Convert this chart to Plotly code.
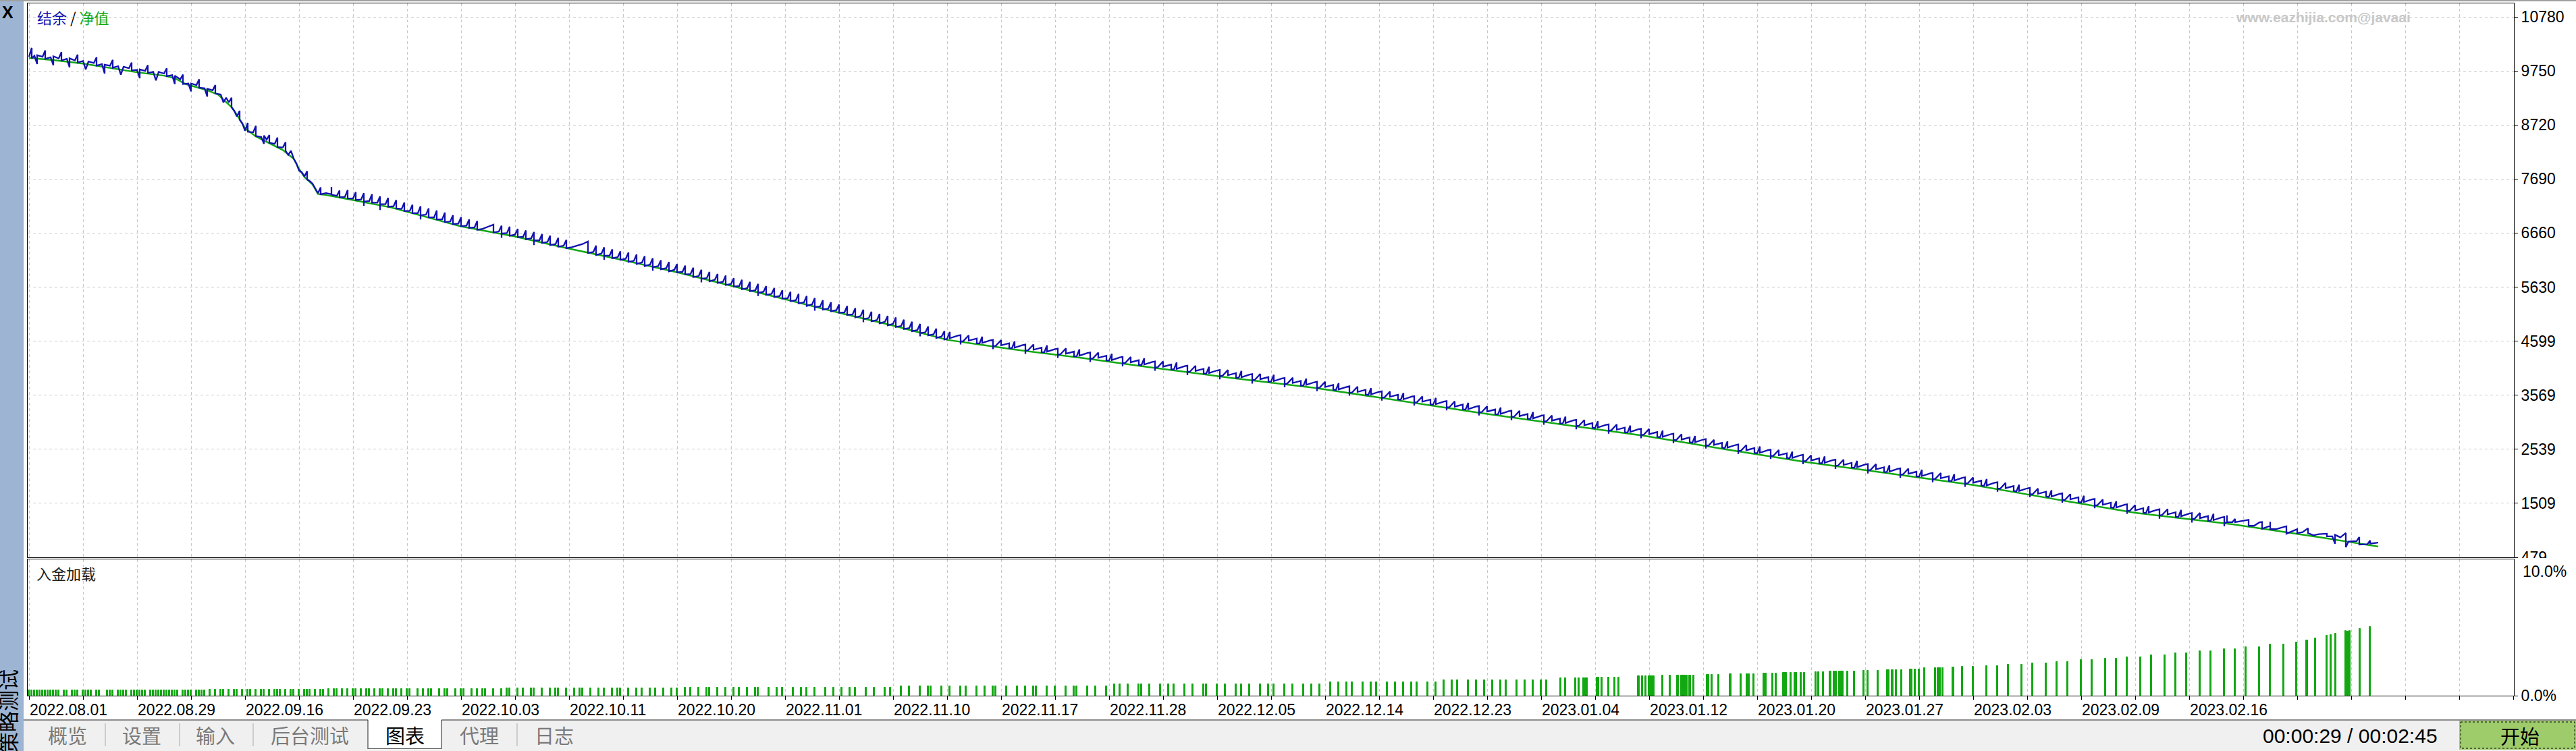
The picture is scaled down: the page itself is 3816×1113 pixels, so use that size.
import plotly.graph_objects as go

# ---------------- data ----------------
date_labels = ["2022.08.01", "2022.08.29", "2022.09.16", "2022.09.23", "2022.10.03",
               "2022.10.11", "2022.10.20", "2022.11.01", "2022.11.10", "2022.11.17",
               "2022.11.28", "2022.12.05", "2022.12.14", "2022.12.23", "2023.01.04",
               "2023.01.12", "2023.01.20", "2023.01.27", "2023.02.03", "2023.02.09",
               "2023.02.16"]
y_tick_values = [479, 1509, 2539, 3569, 4599, 5630, 6660, 7690, 8720, 9750, 10780]
load_tick_labels = ["0.0%", "10.0%"]

# equity (净值, green) : (deal number, value)
equity_points = [(0, 10000), (10, 9950), (20, 9890), (30, 9810), (40, 9724), (50, 9660), (54, 9610),
                 (58, 9500), (62, 9440), (66, 9380), (70, 9300), (72, 9209), (75, 9060), (77, 8913),
                 (80, 8655), (84, 8501), (89, 8372), (94, 8243), (98, 8076), (100, 7883), (102, 7728),
                 (105, 7587), (107, 7406), (109, 7393), (120, 7290), (134, 7149), (160, 6788),
                 (180, 6595), (200, 6363), (220, 6145), (240, 5913), (260, 5655), (280, 5398),
                 (300, 5140), (320, 4896), (340, 4625), (364, 4445), (390, 4280), (414, 4110),
                 (445, 3900), (476, 3711), (507, 3470), (537, 3235), (568, 3010), (598, 2797),
                 (628, 2540), (658, 2295), (690, 2070), (720, 1857), (750, 1590), (780, 1329),
                 (790, 1268), (800, 1208), (810, 1147), (814, 1123), (830, 1003), (840, 930),
                 (850, 848), (860, 767), (870, 685)]

# balance (结余, blue) : (deal number, value)
balance_points = [
    (0, 10020), (1, 10190), (1, 9990), (2, 10040), (3, 9880), (3, 10050), (5, 10020), (6, 10140), (6, 9980),
    (8, 10010), (9, 9860), (9, 10030), (11, 9990), (12, 10110), (12, 9950), (14, 9980), (15, 9820), (15, 9990),
    (17, 9950), (18, 10060), (18, 9910), (20, 9940), (21, 9780), (22, 9930), (24, 9900), (25, 10010), (25, 9850),
    (27, 9880), (28, 9700), (28, 9870), (30, 9850), (31, 9960), (31, 9810), (33, 9840), (34, 9680), (35, 9830),
    (37, 9800), (38, 9910), (38, 9760), (40, 9770), (41, 9610), (41, 9780), (43, 9750), (44, 9860), (44, 9710),
    (46, 9730), (47, 9570), (48, 9730), (50, 9700), (51, 9800), (51, 9650), (53, 9670), (54, 9500), (54, 9660),
    (56, 9590), (57, 9680), (57, 9500), (59, 9510), (60, 9360), (60, 9510), (62, 9480), (63, 9590), (63, 9430),
    (65, 9420), (66, 9260), (66, 9410), (68, 9380), (69, 9480), (69, 9320), (71, 9300), (72, 9150), (73, 9240),
    (74, 9150), (75, 9240), (75, 9060), (76, 8990), (77, 8880), (78, 8990), (78, 8820), (79, 8750), (80, 8610),
    (81, 8760), (81, 8590), (83, 8580), (84, 8700), (84, 8510), (86, 8490), (87, 8360), (87, 8520), (88, 8440),
    (89, 8530), (89, 8380), (91, 8360), (92, 8480), (92, 8300), (94, 8290), (95, 8390), (95, 8230), (96, 8150),
    (97, 8230), (98, 8080), (99, 7990), (100, 7850), (101, 7820), (102, 7740), (103, 7840), (103, 7680),
    (104, 7650), (105, 7600), (106, 7500), (107, 7420), (108, 7530), (108, 7400), (110, 7420),
    (112, 7400), (112, 7540), (112, 7390), (114, 7370), (115, 7470), (115, 7340), (117, 7350), (118, 7480),
    (118, 7320), (120, 7320), (121, 7440), (121, 7290), (123, 7300), (124, 7420), (124, 7180), (124, 7260),
    (126, 7270), (127, 7400), (127, 7240), (129, 7240), (130, 7360), (130, 7100), (130, 7210), (132, 7210),
    (133, 7330), (133, 7160), (135, 7170), (136, 7290), (136, 7130), (138, 7120), (139, 7240), (139, 7080),
    (141, 7080), (142, 7200), (142, 7040), (144, 7040), (145, 7170), (145, 6920), (145, 7000), (147, 7010),
    (148, 7130), (148, 6960), (150, 6960), (151, 7090), (151, 6920), (153, 6920), (154, 7050), (154, 6870),
    (156, 6880), (157, 7000), (157, 6830), (159, 6840), (160, 6960), (160, 6790), (162, 6800), (163, 6920),
    (163, 6760), (165, 6770), (166, 6890), (166, 6720), (168, 6740), (170, 6780), (172, 6820), (172, 6670),
    (174, 6690), (175, 6800), (175, 6570), (175, 6650), (177, 6660), (178, 6780), (178, 6610), (180, 6630),
    (181, 6740), (181, 6580), (183, 6590), (184, 6710), (184, 6540), (186, 6560), (187, 6680), (187, 6430),
    (187, 6520), (189, 6520), (190, 6640), (190, 6470), (192, 6490), (193, 6610), (193, 6430), (195, 6450),
    (196, 6570), (196, 6400), (198, 6420), (199, 6530), (199, 6370), (201, 6390), (203, 6420), (205, 6450),
    (207, 6500), (207, 6280), (209, 6300), (210, 6420), (210, 6240), (212, 6270), (213, 6390), (213, 6150),
    (213, 6230), (215, 6230), (216, 6350), (216, 6180), (218, 6200), (219, 6310), (219, 6150), (221, 6170),
    (222, 6290), (222, 6110), (224, 6130), (225, 6250), (225, 6070), (227, 6100), (228, 6220), (228, 6030),
    (230, 6060), (231, 6180), (231, 5940), (231, 6010), (233, 6030), (234, 6140), (234, 5970), (236, 5990),
    (237, 6110), (237, 5930), (239, 5960), (240, 6070), (240, 5910), (242, 5920), (243, 6040), (243, 5870),
    (245, 5880), (246, 6000), (246, 5820), (248, 5840), (249, 5960), (249, 5720), (249, 5790), (251, 5800),
    (252, 5920), (252, 5740), (254, 5770), (255, 5880), (255, 5710), (257, 5730), (258, 5850), (258, 5670),
    (260, 5690), (261, 5800), (261, 5640), (263, 5650), (264, 5770), (264, 5590), (266, 5610), (267, 5730),
    (267, 5550), (269, 5570), (270, 5690), (270, 5460), (270, 5520), (272, 5540), (273, 5650), (273, 5480),
    (275, 5500), (276, 5610), (276, 5440), (278, 5460), (279, 5570), (279, 5410), (281, 5420), (282, 5540),
    (282, 5360), (284, 5380), (285, 5500), (285, 5320), (287, 5340), (288, 5460), (288, 5270), (290, 5300),
    (291, 5420), (291, 5180), (291, 5250), (293, 5260), (294, 5380), (294, 5200), (296, 5220), (297, 5340),
    (297, 5170), (299, 5190), (300, 5300), (300, 5140), (302, 5150), (303, 5270), (303, 5100), (305, 5110),
    (306, 5230), (306, 5050), (308, 5080), (309, 5200), (309, 4960), (309, 5020), (311, 5040), (312, 5160),
    (312, 4980), (314, 5000), (315, 5120), (315, 4940), (317, 4970), (318, 5080), (318, 4900), (320, 4930),
    (321, 5050), (321, 4870), (323, 4890), (324, 5010), (324, 4830), (326, 4850), (327, 4970), (327, 4790),
    (329, 4810), (330, 4930), (330, 4690), (330, 4750), (332, 4770), (333, 4880), (333, 4710), (335, 4730),
    (336, 4840), (336, 4660), (338, 4690), (339, 4790), (339, 4630),
    (340, 4645), (341, 4775), (341, 4655), (344, 4705), (345, 4715), (345, 4535), (345, 4595),
    (346, 4600), (348, 4710), (348, 4610), (351, 4650), (351, 4560),
    (352, 4555), (353, 4685), (353, 4565), (356, 4615), (357, 4625), (357, 4445), (357, 4505),
    (358, 4510), (360, 4620), (360, 4520), (363, 4560), (363, 4470),
    (364, 4465), (365, 4595), (365, 4475), (368, 4525), (369, 4535), (369, 4355), (369, 4415),
    (370, 4427), (372, 4537), (372, 4437), (375, 4477), (375, 4387),
    (376, 4389), (377, 4519), (377, 4399), (380, 4449), (381, 4459), (381, 4279), (381, 4339),
    (382, 4351), (384, 4461), (384, 4361), (387, 4401), (387, 4311),
    (388, 4313), (389, 4443), (389, 4323), (392, 4373), (393, 4383), (393, 4203), (393, 4263),
    (394, 4272), (396, 4382), (396, 4282), (399, 4322), (399, 4232),
    (400, 4229), (401, 4359), (401, 4239), (404, 4289), (405, 4299), (405, 4119), (405, 4179),
    (406, 4187), (408, 4297), (408, 4197), (411, 4237), (411, 4147),
    (412, 4144), (413, 4274), (413, 4154), (416, 4204), (417, 4214), (417, 4034), (417, 4094),
    (418, 4103), (420, 4213), (420, 4113), (423, 4153), (423, 4063),
    (424, 4062), (425, 4192), (425, 4072), (428, 4122), (429, 4132), (429, 3952), (429, 4012),
    (430, 4022), (432, 4132), (432, 4032), (435, 4072), (435, 3982),
    (436, 3981), (437, 4111), (437, 3991), (440, 4041), (441, 4051), (441, 3871), (441, 3931),
    (442, 3940), (444, 4050), (444, 3950), (447, 3990), (447, 3900),
    (448, 3902), (449, 4032), (449, 3912), (452, 3962), (453, 3972), (453, 3792), (453, 3852),
    (454, 3865), (456, 3975), (456, 3875), (459, 3915), (459, 3825),
    (460, 3829), (461, 3959), (461, 3839), (464, 3889), (465, 3899), (465, 3719), (465, 3779),
    (466, 3792), (468, 3902), (468, 3802), (471, 3842), (471, 3752),
    (472, 3756), (473, 3886), (473, 3766), (476, 3816), (477, 3826), (477, 3646), (477, 3706),
    (478, 3715), (480, 3825), (480, 3725), (483, 3765), (483, 3675),
    (484, 3669), (485, 3799), (485, 3679), (488, 3729), (489, 3739), (489, 3559), (489, 3619),
    (490, 3622), (492, 3732), (492, 3632), (495, 3672), (495, 3582),
    (496, 3575), (497, 3705), (497, 3585), (500, 3635), (501, 3645), (501, 3465), (501, 3525),
    (502, 3529), (504, 3639), (504, 3539), (507, 3579), (507, 3489),
    (508, 3482), (509, 3612), (509, 3492), (512, 3542), (513, 3552), (513, 3372), (513, 3432),
    (514, 3435), (516, 3545), (516, 3445), (519, 3485), (519, 3395),
    (520, 3388), (521, 3518), (521, 3398), (524, 3448), (525, 3458), (525, 3278), (525, 3338),
    (526, 3341), (528, 3451), (528, 3351), (531, 3391), (531, 3301),
    (532, 3294), (533, 3424), (533, 3304), (536, 3354), (537, 3364), (537, 3184), (537, 3244),
    (538, 3248), (540, 3358), (540, 3258), (543, 3298), (543, 3208),
    (544, 3204), (545, 3334), (545, 3214), (548, 3264), (549, 3274), (549, 3094), (549, 3154),
    (550, 3161), (552, 3271), (552, 3171), (555, 3211), (555, 3121),
    (556, 3117), (557, 3247), (557, 3127), (560, 3177), (561, 3187), (561, 3007), (561, 3067),
    (562, 3074), (564, 3184), (564, 3084), (567, 3124), (567, 3034),
    (568, 3030), (569, 3160), (569, 3040), (572, 3090), (573, 3100), (573, 2920), (573, 2980),
    (574, 2987), (576, 3097), (576, 2997), (579, 3037), (579, 2947),
    (580, 2945), (581, 3075), (581, 2955), (584, 3005), (585, 3015), (585, 2835), (585, 2895),
    (586, 2902), (588, 3012), (588, 2912), (591, 2952), (591, 2862),
    (592, 2860), (593, 2990), (593, 2870), (596, 2920), (597, 2930), (597, 2750), (597, 2810),
    (598, 2817), (600, 2927), (600, 2827), (603, 2867), (603, 2777),
    (604, 2766), (605, 2896), (605, 2776), (608, 2826), (609, 2836), (609, 2656), (609, 2716),
    (610, 2714), (612, 2824), (612, 2724), (615, 2764), (615, 2674),
    (616, 2663), (617, 2793), (617, 2673), (620, 2723), (621, 2733), (621, 2553), (621, 2613),
    (622, 2611), (624, 2721), (624, 2621), (627, 2661), (627, 2571),
    (628, 2560), (629, 2690), (629, 2570), (632, 2620), (633, 2630), (633, 2450), (633, 2510),
    (634, 2511), (636, 2621), (636, 2521), (639, 2561), (639, 2471),
    (640, 2462), (641, 2592), (641, 2472), (644, 2522), (645, 2532), (645, 2352), (645, 2412),
    (646, 2413), (648, 2523), (648, 2423), (651, 2463), (651, 2373),
    (652, 2364), (653, 2494), (653, 2374), (656, 2424), (657, 2434), (657, 2254), (657, 2314),
    (658, 2315), (660, 2425), (660, 2325), (663, 2365), (663, 2275),
    (664, 2273), (665, 2403), (665, 2283), (668, 2333), (669, 2343), (669, 2163), (669, 2223),
    (670, 2231), (672, 2341), (672, 2241), (675, 2281), (675, 2191),
    (676, 2188), (677, 2318), (677, 2198), (680, 2248), (681, 2258), (681, 2078), (681, 2138),
    (682, 2146), (684, 2256), (684, 2156), (687, 2196), (687, 2106),
    (688, 2104), (689, 2234), (689, 2114), (692, 2164), (693, 2174), (693, 1994), (693, 2054),
    (694, 2061), (696, 2171), (696, 2071), (699, 2111), (699, 2021),
    (700, 2019), (701, 2149), (701, 2029), (704, 2079), (705, 2089), (705, 1909), (705, 1969),
    (706, 1976), (708, 2086), (708, 1986), (711, 2026), (711, 1936),
    (712, 1934), (713, 2064), (713, 1944), (716, 1994), (717, 2004), (717, 1824), (717, 1884),
    (718, 1891), (720, 2001), (720, 1901), (723, 1941), (723, 1851),
    (724, 1841), (725, 1971), (725, 1851), (728, 1901), (729, 1911), (729, 1731), (729, 1791),
    (730, 1788), (732, 1898), (732, 1798), (735, 1838), (735, 1748),
    (736, 1734), (737, 1864), (737, 1744), (740, 1794), (741, 1804), (741, 1624), (741, 1684),
    (742, 1681), (744, 1791), (744, 1691), (747, 1731), (747, 1641),
    (748, 1628), (749, 1758), (749, 1638), (752, 1688), (753, 1698), (753, 1518), (753, 1578),
    (754, 1575), (756, 1685), (756, 1585), (759, 1625), (759, 1535),
    (760, 1523), (761, 1653), (761, 1533), (764, 1583), (765, 1593), (765, 1413), (765, 1473),
    (766, 1471), (768, 1581), (768, 1481), (771, 1521), (771, 1431),
    (772, 1419), (773, 1549), (773, 1429), (776, 1479), (777, 1489), (777, 1309), (777, 1369),
    (778, 1366), (780, 1476), (780, 1376), (783, 1416), (783, 1326),
    (784, 1325), (785, 1455), (785, 1335), (788, 1385), (789, 1395), (789, 1215), (789, 1275),
    (790, 1288), (792, 1398), (792, 1298), (795, 1338), (795, 1248),
    (796, 1252), (797, 1382), (797, 1262), (800, 1312), (801, 1322), (801, 1142), (801, 1202),
    (802, 1216), (804, 1326), (804, 1226), (807, 1266), (807, 1176),
    (808, 1179), (809, 1309), (809, 1189), (812, 1239), (813, 1249), (813, 1069), (813, 1129),
    (814, 1150), (814, 1280), (814, 1150), (816, 1150), (817, 1213), (817, 1150), (822, 1196), (822, 1080),
    (824, 1080), (826, 1145), (827, 1152), (827, 1024), (830, 1080), (830, 1157), (830, 1016), (832, 1016),
    (836, 1072), (836, 930), (840, 1016), (840, 940), (842, 960), (844, 1033), (844, 940), (846, 900),
    (848, 920), (851, 930), (851, 880), (853, 880), (854, 737), (854, 908), (856, 860), (858, 943),
    (858, 672), (859, 780), (862, 790), (863, 866), (863, 723), (866, 730), (867, 801), (867, 740),
    (870, 759)]

# deposit load (入金加载, %) : (load, [deal numbers])
load_groups = [
    (0.40, [0, 1, 2, 3, 4, 5, 6, 7, 8, 9, 10, 11, 13, 14, 16, 17, 18, 20, 21, 22, 23, 25, 26, 29, 30, 31,
            33, 34, 35, 36, 38, 39, 40, 41, 42, 43, 45, 46, 47, 48, 49, 50, 51, 52, 53, 54, 55]),
    (0.42, [57, 58, 59, 60, 62, 63, 64, 65]),
    (0.44, [67, 69, 71, 72, 74, 76, 77, 79, 81, 82, 84, 86, 87, 89, 91, 92, 93, 95, 97, 98, 100, 102, 103,
            104, 106, 108, 109]),
    (0.48, [111, 113, 114, 116, 118, 120, 121, 123, 125, 126, 128, 130, 131, 133, 135, 136, 138, 140, 141,
            144, 146, 148, 149, 152, 154, 155, 158, 160, 161, 164, 166, 168, 169, 172, 175]),
    (0.53, [177, 178, 181, 183, 186, 187, 190, 193, 195, 196, 199, 202, 204, 205, 208, 211, 213, 216, 218,
            219, 222, 225, 227, 230, 232, 235, 238, 240]),
    (0.58, [243, 245, 248, 251, 252, 255, 258, 261, 263, 266, 269, 270, 274, 277, 279, 283, 286, 288, 291,
            295, 298, 301, 304, 306, 310, 313, 317, 319]),
    (0.68, [323, 326, 330, 333, 334, 338, 341, 345, 347, 351, 354, 357, 358, 362, 366, 369, 372, 373, 377,
            380, 384, 387, 388, 392, 395, 399]),
    (0.82, [402, 404, 407, 411, 412, 415, 419, 422, 424, 428, 431, 435, 436, 440, 443, 447, 449, 452, 456,
            459, 461, 465, 468, 472, 475, 478]),
    (1.00, [482, 485, 488, 490, 494, 497, 499, 503, 506, 509, 512, 514, 518, 521]),
    (1.15, [524, 527, 529, 533, 536, 539, 542, 545, 547, 551, 554, 557, 560, 562]),
    (1.29, [567.3, 568.9, 572.7, 574.0, 575.7, 576.5, 577.0]),
    (1.34, [580.7, 581.3, 582.4, 584.9, 587.2, 588.7]),
    (1.42, [596.1, 597.4, 598.7, 600.1, 600.6, 601.2, 601.8]),
    (1.47, [604.9, 607.8, 610.6, 611.9, 612.6, 613.2, 614.0, 615.1, 616.4]),
    (1.53, [621.4, 621.9, 623.3, 625.7]),
    (1.58, [630.1, 634.0, 636.2, 637.0, 638.7]),
    (1.63, [642.5, 643.2, 645.8, 647.0]),
    (1.68, [649.7, 650.3, 650.8, 652.5, 653.9, 654.4, 656.3, 657.5]),
    (1.73, [661.8, 662.8, 664.5]),
    (1.78, [667.1, 668.5, 669.2, 670.6, 671.2, 671.6, 673.5, 676.0]),
    (1.83, [679.5, 681.0, 684.8]),
    (1.88, [688.3, 688.6, 690.1, 691.5, 693.4]),
    (1.93, [696.7, 697.2, 698.4, 699.9]),
    (2.03, [702.0, 706.0, 707.1, 707.8, 708.7]),
    (2.07, [712.6]),
    (2.12, [716, 720]), (2.2, [725, 729]), (2.3, [733, 738]), (2.4, [742, 747]), (2.5, [751, 755]),
    (2.6, [760, 764]), (2.7, [769, 773]), (2.8, [777, 782]), (2.95, [786, 791]), (3.1, [795, 799]),
    (3.25, [804, 808]), (3.4, [813, 817]), (3.55, [821, 826]), (3.75, [830, 835]),
    (3.91, [839.7]), (4.04, [843.6]), (4.21, [846.75]), (4.39, [850.9]), (4.46, [852.4]),
    (4.54, [854.25]), (4.75, [858.0]), (4.70, [858.75]), (4.74, [859.5]), (4.90, [863.25]), (5.05, [866.9])]

legend_balance, legend_equity = "结余", "净值"
load_title = "入金加载"
side_title = "策略测试"
tab_names = ["概览", "设置", "输入", "后台测试", "图表", "代理", "日志"]
active_tab = "图表"
timer_text = "00:00:29 / 00:02:45"
start_text = "开始"
watermark = "www.eazhijia.com@javaai"

# ---------------- layout geometry ----------------
W, H = 3816, 1113
ML, MR, MT, MB = 41, 92, 5, 82
PW, PH = W - ML - MR, H - MT - MB


def px(x):
    return (x - ML) / PW


def py(y):
    return (H - MB - y) / PH


eq_x = [p[0] for p in equity_points]
eq_y = [p[1] for p in equity_points]
bal_x = [p[0] for p in balance_points]
bal_y = [p[1] for p in balance_points]
load_x, load_y = [], []
for val, deals in load_groups:
    for d in deals:
        load_x.append(d)
        load_y.append(val)

BLUE = "#1212B0"
GREEN = "#12A812"
GRID = "#C8C8C8"
FONT = "Liberation Sans"
CJK = "Noto Sans CJK SC"

tickvals = list(range(0, 921, 20))
ticktext = []
for v in tickvals:
    i = v // 40
    ticktext.append(date_labels[i] if v % 40 == 0 and i < len(date_labels) else "")

fig = go.Figure()
fig.add_trace(go.Bar(x=load_x, y=load_y, xaxis="x", yaxis="y2", width=0.55,
                     marker=dict(color=GREEN, line=dict(color=GREEN, width=1)),
                     showlegend=False, hoverinfo="skip"))
fig.add_trace(go.Scatter(x=eq_x, y=eq_y, xaxis="x2", yaxis="y", mode="lines",
                         line=dict(color=GREEN, width=2.5), showlegend=False, hoverinfo="skip"))
fig.add_trace(go.Scatter(x=bal_x, y=bal_y, xaxis="x2", yaxis="y", mode="lines",
                         line=dict(color=BLUE, width=2.3), showlegend=False, hoverinfo="skip"))

xcommon = dict(range=[-0.5, 920.25], tickmode="array", tickvals=tickvals,
               showgrid=True, gridcolor=GRID, griddash="4px,4px", gridwidth=1,
               zeroline=False, showline=True, linecolor="#000000", linewidth=1, mirror=True)

fig.update_layout(
    width=W, height=H, margin=dict(l=ML, r=MR, t=MT, b=MB),
    paper_bgcolor="#FFFFFF", plot_bgcolor="#FFFFFF",
    font=dict(family=FONT, size=23, color="#000000"),
    bargap=0,
    xaxis=dict(**xcommon, anchor="y2", ticktext=ticktext, ticks="outside", ticklen=5,
               tickcolor="#000000", ticklabelposition="outside right",
               tickfont=dict(family=FONT, size=23, color="#000000")),
    xaxis2=dict(**xcommon, anchor="y", matches="x", showticklabels=False, ticks=""),
    yaxis=dict(domain=[py(826), 1], anchor="x2", side="right", range=[479, 11037.5],
               tickmode="array", tickvals=y_tick_values, ticktext=[str(v) for v in y_tick_values],
               ticks="outside", ticklen=5, tickcolor="#000000",
               showgrid=True, gridcolor=GRID, griddash="4px,4px", gridwidth=1,
               zeroline=False, showline=True, linecolor="#000000", linewidth=1, mirror=True,
               tickfont=dict(family=FONT, size=23, color="#000000")),
    yaxis2=dict(domain=[0, py(829)], anchor="x", side="right", range=[0, 10],
                tickmode="array", tickvals=[0], ticktext=[load_tick_labels[0]],
                ticks="outside", ticklen=5, tickcolor="#000000", showgrid=False,
                zeroline=False, showline=True, linecolor="#000000", linewidth=1, mirror=True,
                tickfont=dict(family=FONT, size=23, color="#000000")),
)

shapes = []
ann = []


def rect(x0, y0, x1, y1, fill, line=None, lw=0, dash=None):
    shapes.append(dict(type="rect", xref="paper", yref="paper", x0=px(x0), x1=px(x1),
                       y0=py(y0), y1=py(y1), fillcolor=fill, layer="above",
                       line=dict(color=line or fill, width=lw, dash=dash)))


def hline(x0, x1, y, color, w=1):
    shapes.append(dict(type="line", xref="paper", yref="paper", x0=px(x0), x1=px(x1),
                       y0=py(y), y1=py(y), layer="above", line=dict(color=color, width=w)))


def vline(x, y0, y1, color, w=1):
    shapes.append(dict(type="line", xref="paper", yref="paper", x0=px(x), x1=px(x),
                       y0=py(y0), y1=py(y1), layer="above", line=dict(color=color, width=w)))


def text(x, y, s, size, color="#000000", family=FONT, xa="center", ya="middle", angle=0, bold=False):
    if bold:
        s = "<b>" + s + "</b>"
    ann.append(dict(xref="paper", yref="paper", x=px(x), y=py(y), text=s, showarrow=False,
                    xanchor=xa, yanchor=ya, textangle=angle,
                    font=dict(family=family, size=size, color=color)))


# top grey strip
rect(0, 0, W, 2, "#A0A0A0")
# left side bar
rect(0, 2, 35, H, "#9DB5D3")
text(11, 18, "X", 25, "#000000", FONT, bold=True)
text(10, 1054, side_title, 31, "#000000", CJK, angle=-90)
# hide lower half of the "479" label under the second panel
rect(3726, 827, W, 834, "#FFFFFF")
# tab bar
rect(35, 1067, W, H, "#F0F0F0")
hline(35, 545, 1067, "#202020")
hline(654, W, 1067, "#202020")
rect(545, 1067, 654, 1109, "#FFFFFF")
vline(545, 1067, 1110, "#202020")
vline(654, 1067, 1110, "#202020")
hline(545, 654, 1109.5, "#606060")
for sx in [156, 266, 375, 766]:
    vline(sx, 1072, 1106, "#A8A8A8")
tab_cx = [100, 210, 319, 459, 600, 710, 821]
for name, cx in zip(tab_names, tab_cx):
    text(cx, 1089, name, 29, "#000000" if name == active_tab else "#7A7A7A", CJK)
# timer and start button
text(3613, 1090, timer_text, 30, "#000000", FONT, xa="right")
rect(3643, 1068, W, 1111, "#9FCC6B")
rect(3645, 1070, W - 2, 1109, "rgba(0,0,0,0)", "#000000", 1, "dot")
text(3733, 1090, start_text, 29, "#000000", CJK)

# chart texts
text(53, 25, f'<span style="color:{BLUE}">{legend_balance}</span> / '
             f'<span style="color:{GREEN}">{legend_equity}</span>', 22, "#000000", CJK, xa="left")
text(3310, 25, watermark, 21, "#C8C8C8", FONT, xa="left", bold=True)
text(52, 849, load_title, 22, "#202020", CJK, xa="left")
ann.append(dict(xref="paper", yref="y2", x=px(3735), y=10, yshift=-3, text=load_tick_labels[1],
                showarrow=False, xanchor="left", yanchor="top",
                font=dict(family=FONT, size=23, color="#000000")))

fig.update_layout(shapes=shapes, annotations=ann)
fig.write_html("out.html", config={"displayModeBar": False})
